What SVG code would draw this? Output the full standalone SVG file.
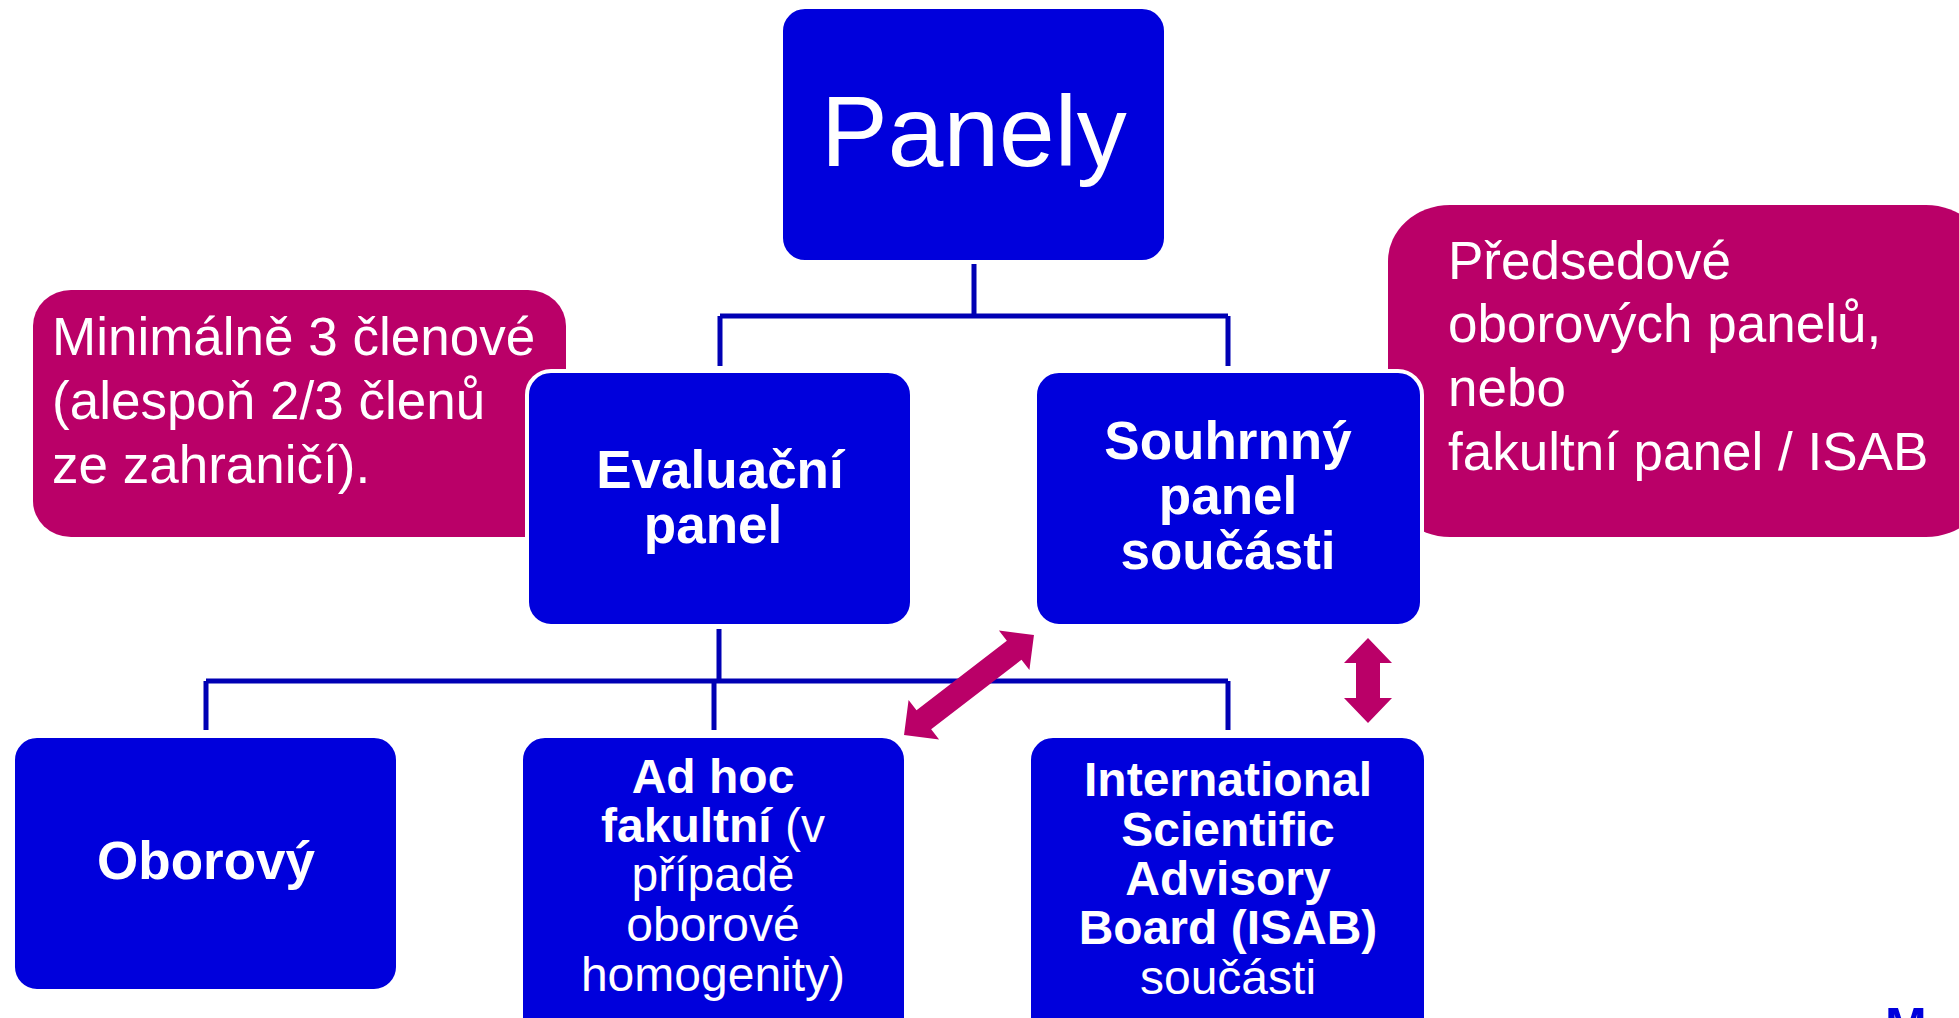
<svg xmlns="http://www.w3.org/2000/svg" width="1959" height="1018" viewBox="0 0 1959 1018">
<style>
.box{fill:#0000DC;stroke:#ffffff;stroke-width:4}
.note{fill:#BA0068}
.line{fill:none;stroke:#0000B4;stroke-width:5}
.arr{fill:#BA0068}
text{font-family:"Liberation Sans",Arial,sans-serif;fill:#ffffff}
.b{font-weight:bold}
.c{text-anchor:middle}
.n53{font-size:53px}
.n48{font-size:48px}
</style>
<rect width="1959" height="1018" fill="#ffffff"/>
<g id="note-left">
<rect class="note" x="33" y="290" width="533" height="247" rx="38" ry="36"/>
<text class="n53" x="52" y="355">Minimálně 3 členové</text>
<text class="n53" x="52" y="419">(alespoň 2/3 členů</text>
<text class="n53" x="52" y="483">ze zahraničí).</text>
</g>
<g id="note-right">
<rect class="note" x="1388" y="205" width="600" height="332" rx="62" ry="56"/>
<text class="n53" x="1448" y="279">Předsedové</text>
<text class="n53" x="1448" y="342">oborových panelů,</text>
<text class="n53" x="1448" y="406">nebo</text>
<text class="n53" x="1448" y="470">fakultní panel / ISAB</text>
</g>
<g id="connectors">
<path class="line" d="M974 264V316M720 316H1228M720 316V366M1228 316V366"/>
<path class="line" d="M719 629V681M206 681H1228M206 681V730M714 681V730M1228 681V730"/>
</g>
<g id="node-panely">
<rect class="box" x="781" y="7" width="385" height="255" rx="24"/>
<text class="c" x="974" y="166" font-size="100">Panely</text>
</g>
<g id="node-evaluacni">
<rect class="box" x="527" y="371" width="385" height="255" rx="24"/>
<text class="c b n53" x="720" y="488">Evaluační</text>
<text class="c b n53" x="713" y="543">panel</text>
</g>
<g id="node-souhrnny">
<rect class="box" x="1035" y="371" width="387" height="255" rx="24"/>
<text class="c b n53" x="1228" y="459">Souhrnný</text>
<text class="c b n53" x="1228" y="514">panel</text>
<text class="c b n53" x="1228" y="569">součásti</text>
</g>
<g id="node-oborovy">
<rect class="box" x="13" y="736" width="385" height="255" rx="24"/>
<text class="c b n53" x="206" y="879">Oborový</text>
</g>
<g id="node-adhoc">
<rect class="box" x="521" y="736" width="385" height="320" rx="24"/>
<text class="c b n48" x="713" y="793">Ad hoc</text>
<text class="c n48" x="713" y="842"><tspan class="b">fakultní</tspan> (v</text>
<text class="c n48" x="713" y="891">případě</text>
<text class="c n48" x="713" y="941">oborové</text>
<text class="c n48" x="713" y="991">homogenity)</text>
</g>
<g id="node-isab">
<rect class="box" x="1029" y="736" width="397" height="320" rx="24"/>
<text class="c b n48" x="1228" y="796">International</text>
<text class="c b n48" x="1228" y="846">Scientific</text>
<text class="c b n48" x="1228" y="895">Advisory</text>
<text class="c b n48" x="1228" y="944">Board (ISAB)</text>
<text class="c n48" x="1228" y="994">součásti</text>
</g>
<g id="arrows">
<polygon class="arr" transform="translate(969 685) rotate(-37.6)" points="-82,0 -57,-25 -57,-12 57,-12 57,-25 82,0 57,25 57,12 -57,12 -57,25"/>
<polygon class="arr" points="1368,638 1392,663 1380,663 1380,698 1392,698 1368,723 1344,698 1356,698 1356,663 1344,663"/>
</g>
<g id="logo">
<text x="1885" y="1043" font-size="50" font-weight="bold" letter-spacing="30" style="fill:#0000DC">MU</text>
</g>
</svg>
